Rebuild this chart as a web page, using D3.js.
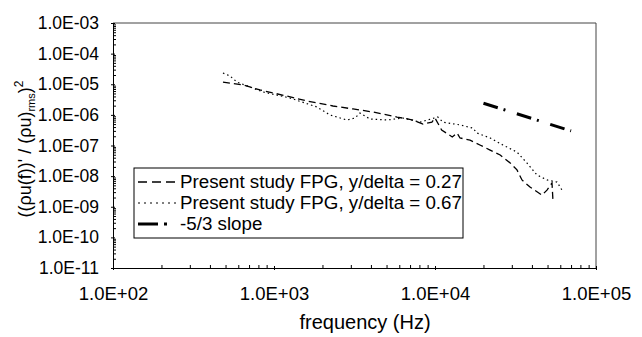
<!DOCTYPE html>
<html><head><meta charset="utf-8">
<script src="https://cdn.jsdelivr.net/npm/d3@7"></script>
<style>body{margin:0;background:#fff}text{font-family:"Liberation Sans",Arial,sans-serif;fill:#000}</style>
</head><body>
<svg id="c" width="642" height="337"></svg>
<script>
// ---- data ----
const xTicks = [1e2, 1e3, 1e4, 1e5];
const yTicks = [1e-11, 1e-10, 1e-9, 1e-8, 1e-7, 1e-6, 1e-5, 1e-4, 1e-3];
const seriesNames = ["Present study FPG, y/delta = 0.27", "Present study FPG, y/delta = 0.67", "-5/3 slope"];
const freqA = [482, 641, 818, 1205, 1604, 2324, 3097, 4125, 5808, 7300, 8420, 9570, 10000, 11000, 12800, 13700, 14300, 16500, 19000, 22000, 25400, 29300, 32300, 34700, 38900, 46200, 49600, 53300, 54100];
const valA  = [1.18e-5, 9.5e-6, 6.5e-6, 4.1e-6, 2.84e-6, 1.95e-6, 1.56e-6, 1.24e-6, 8.5e-7, 6.8e-7, 5.0e-7, 5.8e-7, 7.9e-7, 3.2e-7, 1.9e-7, 2.56e-7, 1.76e-7, 1.5e-7, 1.04e-7, 7.1e-8, 4.9e-8, 2.7e-8, 1.6e-8, 7.5e-9, 4.4e-9, 2.4e-9, 3.5e-9, 6.0e-9, 1.4e-9];
const freqB = [482, 533, 589, 855, 1256, 1849, 2228, 2840, 3185, 3420, 3945, 5035, 6330, 8070, 10400, 11200, 14300, 17200, 18200, 22000, 26400, 32300, 37200, 43000, 49600, 57300, 61500];
const valB  = [2.33e-5, 1.86e-5, 1.18e-5, 5.6e-6, 3.56e-6, 1.81e-6, 9.9e-7, 6.8e-7, 7.9e-7, 1.15e-6, 7.3e-7, 6.8e-7, 7.9e-7, 5.8e-7, 8.5e-7, 5.8e-7, 4.7e-7, 3.7e-7, 2.56e-7, 1.76e-7, 1.04e-7, 6.1e-8, 2.7e-8, 1.09e-8, 7.5e-9, 6.4e-9, 3.5e-9];
const slopeFreq = [2.0e4, 7.0e4];
const slopeVal  = [2.4e-6, 3.0e-7];

// ---- layout ----
const svg = d3.select("#c");
const L = 113, R = 596, T = 23, B = 268;
const x = d3.scaleLog().domain([1e2, 1e5]).range([L, R]);
const y = d3.scaleLog().domain([1e-11, 1e-3]).range([B, T]);
const fmt = v => { const e = Math.round(Math.log10(v)); return "1.0E" + (e < 0 ? "-" : "+") + String(Math.abs(e)).padStart(2, "0"); };

// frame (top/right)
svg.append("line").attr("x1", L).attr("x2", R).attr("y1", T).attr("y2", T).attr("stroke", "#444").attr("stroke-width", 1);
svg.append("line").attr("x1", R).attr("x2", R).attr("y1", T).attr("y2", B).attr("stroke", "#444").attr("stroke-width", 1);

// minor ticks
function minors(lo, hi) { const out = []; for (let e = lo; e < hi; e++) for (let m = 2; m <= 9; m++) out.push(m * Math.pow(10, e)); return out; }
const gxm = svg.append("g").attr("transform", `translate(0,${B})`).call(d3.axisBottom(x).tickValues(minors(2, 5)).tickSize(-3).tickFormat(""));
gxm.select(".domain").remove();
const gym = svg.append("g").attr("transform", `translate(${L},0)`).call(d3.axisLeft(y).tickValues(minors(-11, -3)).tickSize(-3).tickFormat(""));
gym.select(".domain").remove();

// major axes
const gx = svg.append("g").attr("transform", `translate(0,${B})`)
  .call(d3.axisBottom(x).tickValues(xTicks).tickFormat(fmt).tickSizeInner(4).tickSizeOuter(0).tickPadding(15));
gx.selectAll("text").style("font-size", "18.5px").attr("font-family", "Liberation Sans, Arial, sans-serif");
gx.selectAll("line").attr("transform", "translate(0,-2)");
const gy = svg.append("g").attr("transform", `translate(${L},0)`)
  .call(d3.axisLeft(y).tickValues(yTicks).tickFormat(fmt).tickSizeInner(4).tickSizeOuter(0).tickPadding(10));
gy.selectAll("text").style("font-size", "17.5px").attr("font-family", "Liberation Sans, Arial, sans-serif");
gy.selectAll("line").attr("transform", "translate(2,0)");
svg.selectAll(".domain").attr("stroke", "#000");

// lines
const line = d3.line().x(d => x(d[0])).y(d => y(d[1]));
svg.append("path").datum(d3.zip(freqA, valA)).attr("d", line).attr("fill", "none")
  .attr("stroke", "#000").attr("stroke-width", 1.3).attr("stroke-dasharray", "7,4");
svg.append("path").datum(d3.zip(freqB, valB)).attr("d", line).attr("fill", "none")
  .attr("stroke", "#000").attr("stroke-width", 1.2).attr("stroke-dasharray", "1.5,3");
svg.append("path").datum(d3.zip(slopeFreq, slopeVal)).attr("d", line).attr("fill", "none")
  .attr("stroke", "#000").attr("stroke-width", 3).attr("stroke-dasharray", "15,6,2,12");

// legend
svg.append("rect").attr("x", 134).attr("y", 168).attr("width", 329).attr("height", 70)
  .attr("fill", "#fff").attr("stroke", "#000").attr("stroke-width", 1);
const legStyles = [["9,5", 1.3], ["2,4", 1.2], ["20,6,3,30", 3]];
const legY = [182, 203, 224];
seriesNames.forEach((n, i) => {
  svg.append("line").attr("x1", 138).attr("x2", 177).attr("y1", legY[i]).attr("y2", legY[i])
    .attr("stroke", "#000").attr("stroke-width", legStyles[i][1]).attr("stroke-dasharray", legStyles[i][0]);
  svg.append("text").attr("x", 180).attr("y", legY[i] + 6).style("font-size", "18.75px").text(n);
});

// axis titles
svg.append("text").attr("x", 365).attr("y", 329).attr("text-anchor", "middle").style("font-size", "20px").text("frequency (Hz)");
const yt = svg.append("text").attr("transform", "translate(31,149) rotate(-90)").attr("text-anchor", "middle").style("font-size", "18px");
yt.append("tspan").text("((ρu(f))' / (ρu)");
yt.append("tspan").attr("font-size", "11px").attr("dy", 4).text("rms");
yt.append("tspan").attr("dy", -4).text(")");
yt.append("tspan").attr("font-size", "12px").attr("dy", -8).text("2");
</script>
</body></html>
